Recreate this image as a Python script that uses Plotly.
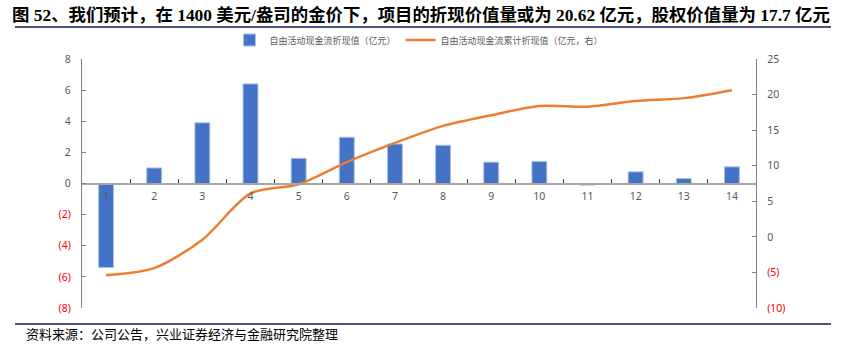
import plotly.graph_objects as go

categories = [str(i) for i in range(1, 15)]
fcf_pv = [-5.4, 1.0, 3.9, 6.4, 1.62, 2.97, 2.54, 2.46, 1.37, 1.41, -0.1, 0.75, 0.32, 1.07]
cum_pv = [-5.4, -4.4, -0.4, 6.1, 7.4, 10.5, 13.2, 15.6, 17.1, 18.4, 18.3, 19.1, 19.5, 20.62]

left_ticks = [-8, -6, -4, -2, 0, 2, 4, 6, 8]
right_ticks = [-10, -5, 0, 5, 10, 15, 20, 25]

title_text = "图 52、我们预计，在 1400 美元/盎司的金价下，项目的折现价值量或为 20.62 亿元，股权价值量为 17.7 亿元"
source_text = "资料来源：公司公告，兴业证券经济与金融研究院整理"
bar_name = "自由活动现金流折现值（亿元）"
line_name = "自由活动现金流累计折现值（亿元，右）"


def fmt(v):
    if v < 0:
        return f"<span style='color:#FF0000'>({abs(v)})</span>"
    return str(v)


W, H = 844, 359
L, R, T, B = 82, 756, 59, 308


def px(x):
    return (x - L) / (R - L)


def py(y):
    return (B - y) / (B - T)


fig = go.Figure()
fig.add_trace(go.Bar(
    x=categories, y=fcf_pv, name=bar_name, yaxis="y",
    marker=dict(color="#4472C4", line=dict(color="#A9C0EA", width=1)),
    width=0.31,
))
fig.add_trace(go.Scatter(
    x=categories, y=cum_pv, name=line_name, yaxis="y2", mode="lines",
    line=dict(color="#ED7D31", width=2.5, shape="spline", smoothing=0.8),
))

axis_font = dict(family="Noto Sans, Noto Sans CJK SC", size=10.5, color="#595959")

fig.update_layout(
    width=W, height=H,
    margin=dict(l=L, r=W - R, t=T, b=H - B),
    paper_bgcolor="white", plot_bgcolor="white",
    showlegend=True,
    legend=dict(orientation="h", x=0.5, xanchor="center", y=py(40), yanchor="middle",
                font=dict(family="Noto Sans CJK SC", size=9, color="#595959"),
                bgcolor="rgba(0,0,0,0)", itemwidth=30, tracegroupgap=0),
    xaxis=dict(type="category", range=[-0.5, 13.5], anchor="free", position=0.5,
               showline=True, linecolor="#A6A6A6", linewidth=1.5,
               ticks="inside", ticklen=4, tickcolor="#404040", tickson="boundaries",
               tickfont=axis_font, showgrid=False, zeroline=False, layer="above traces",
               ticklabelstandoff=3),
    yaxis=dict(range=[-8, 8], tickvals=left_ticks, ticktext=[fmt(v) for v in left_ticks],
               showline=True, linecolor="#808080", linewidth=1.2,
               ticks="inside", ticklen=4, tickcolor="#808080",
               tickfont=axis_font, showgrid=False, zeroline=False, ticklabelstandoff=8),
    yaxis2=dict(range=[-10, 25], tickvals=right_ticks, ticktext=[fmt(v) for v in right_ticks],
                overlaying="y", side="right",
                showline=True, linecolor="#808080", linewidth=1.2,
                ticks="inside", ticklen=4, tickcolor="#808080",
                tickfont=axis_font, showgrid=False, zeroline=False, ticklabelstandoff=8),
    shapes=[
        dict(type="line", xref="paper", yref="paper", x0=px(15), x1=px(831), y0=py(27), y1=py(27),
             line=dict(color="#4F4F7A", width=2)),
        dict(type="line", xref="paper", yref="paper", x0=px(15), x1=px(831), y0=py(324), y1=py(324),
             line=dict(color="#4F4F7A", width=2)),
    ],
    annotations=[
        dict(text=f"<b>{title_text}</b>", xref="paper", yref="paper", x=px(10), y=py(15),
             xanchor="left", yanchor="middle", showarrow=False,
             font=dict(family="Liberation Serif, Noto Sans CJK SC", size=17.4, color="#000000")),
        dict(text=source_text, xref="paper", yref="paper", x=px(24), y=py(333),
             xanchor="left", yanchor="middle", showarrow=False,
             font=dict(family="Noto Sans CJK SC", size=13, color="#000000")),
    ],
)

fig.write_html("out.html", config={"displayModeBar": False},
               post_script="document.body.style.margin='0';")
